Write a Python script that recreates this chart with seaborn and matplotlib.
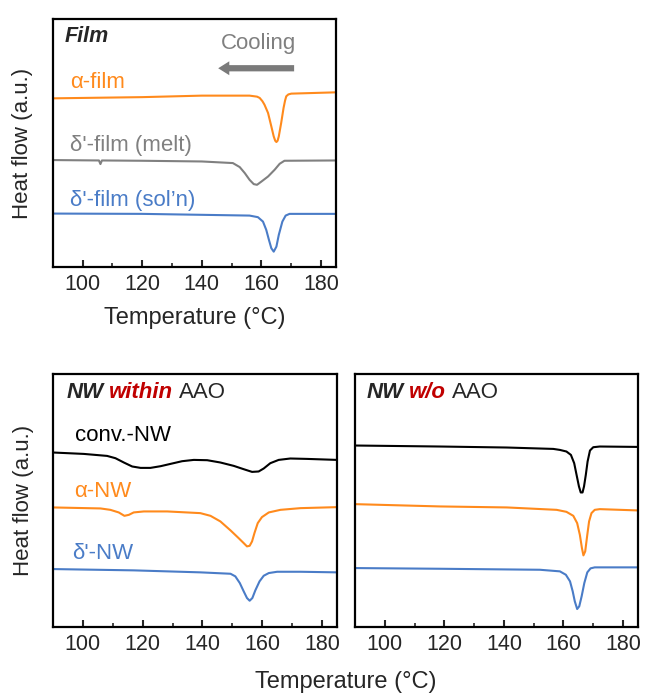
import pandas as pd
import matplotlib.pyplot as plt
import seaborn as sns
from matplotlib.ticker import MultipleLocator

# ---- data (heat flow read as height above the panel floor, a.u.) ----
# Film panel
film_alpha_T = [90, 120, 140, 156, 158.5, 159.4, 160.3, 161, 162.2, 163.3, 164.1, 164.6, 165, 165.4,
                165.8, 166.6, 167.4, 167.9, 168.3, 169, 170, 185]
film_alpha_h = [168.3, 169.5, 171, 171, 170, 168.7, 165.5, 162, 153.7, 140.3, 130.3, 126, 124.7, 126,
                130.3, 143.7, 158.7, 166, 170.3, 172.2, 173, 174.3]

film_melt_T = [90, 105.5, 106, 106.5, 120, 140, 150.4, 152.7, 154.4, 156, 157.4, 158.5, 160, 162.2,
               164.4, 166.1, 167.7, 185]
film_melt_h = [106.7, 106.3, 102.7, 106.3, 106, 105.3, 103.7, 99.7, 93.7, 87, 82.7, 82, 85.3, 90.3,
               97, 103, 106, 106.3]

film_soln_T = [90, 120, 156, 158.8, 160.5, 161.6, 162.5, 163.3, 164.1, 165, 165.8, 167, 168.1, 169.4, 185]
film_soln_h = [53.3, 53, 51.3, 49.7, 45.3, 37, 27, 18.7, 15.3, 20.3, 32, 45.3, 51.3, 53, 53]

# NW within AAO
in_conv_T = [90, 100.3, 108.1, 110.9, 113.7, 116.5, 119.3, 122.6, 126, 129.3, 133.2, 137.1, 141.6, 146,
             150.5, 153.8, 156.6, 158.8, 160.5, 162.7, 165.5, 169.4, 175, 185]
in_conv_h = [174.7, 173.3, 171.3, 169, 164.7, 160.7, 159.3, 159.3, 161, 163.3, 166, 167.3, 167, 164.7,
             161.3, 158, 155.3, 155.7, 158.7, 164, 167.3, 168.7, 168.3, 167.3]

in_alpha_T = [90, 105.9, 109.2, 112, 113.9, 115.4, 117, 120.4, 128.2, 139.3, 142.7, 146, 149.4, 152.1,
              153.8, 154.9, 155.8, 156.6, 157.4, 158.5, 159.9, 162.2, 166.1, 172.8, 185]
in_alpha_h = [119.7, 118.7, 117.3, 114.7, 111.3, 112.3, 114.7, 115.7, 115.7, 114, 111.3, 105.7, 96.7, 89,
              84, 80.7, 81.3, 85.7, 94, 104, 110, 114.7, 117.3, 119, 120]

in_delta_T = [90, 117, 139.3, 149.4, 151, 152.5, 153.8, 154.9, 155.8, 156.7, 157.7, 159.1, 160.5, 162.2,
              165, 172.8, 185]
in_delta_h = [58, 56.7, 54.7, 53.3, 50.7, 44, 35.7, 29, 26.3, 29, 36.7, 45.7, 51.3, 54, 55.3, 55.3, 54.7]

# NW w/o AAO
wo_conv_T = [90, 118.6, 141, 156.6, 158.8, 161, 162.5, 163.6, 164.4, 165.2, 165.8, 166.4, 166.9, 167.5,
             168.1, 168.9, 170, 172.2, 185]
wo_conv_h = [181.7, 180.7, 179.7, 178.3, 177.3, 175.7, 172.3, 164, 152.3, 140.7, 134.7, 134.7, 140.7,
             152.3, 165.7, 176.7, 180, 180.7, 180.3]

wo_alpha_T = [90, 118.6, 141, 157.7, 161, 163.3, 164.6, 165.5, 166.2, 166.7, 167.3, 168, 168.6, 169.4,
              170.5, 172.2, 185]
wo_alpha_h = [123, 120.7, 119.7, 117.3, 115.3, 111.3, 104, 92.3, 79, 71.7, 75.7, 92.3, 105.7, 114,
              117.3, 118, 116.7]

wo_delta_T = [90, 118.6, 152.1, 158.8, 160.8, 162.2, 163.1, 163.8, 164.6, 165.3, 166.1, 167, 168, 169.1,
              170.5, 185]
wo_delta_h = [59, 58.3, 57.3, 55.7, 52.3, 45.7, 35.7, 25.7, 18, 20.7, 30.7, 44, 54.7, 58.7, 59.7, 59.7]

ORANGE = "#ff8a1c"
GRAY = "#808080"
BLUE = "#4a7cc7"
BLACK = "#000000"
RED = "#c00000"


def make_df(series):
    rows = []
    for name, T, h in series:
        rows += [{"T": t, "h": v, "sample": name} for t, v in zip(T, h)]
    return pd.DataFrame(rows)


def style_axis(ax, ymax):
    ax.set_xlim(90, 185)
    ax.set_ylim(0, ymax)
    ax.set_yticks([])
    ax.xaxis.set_major_locator(MultipleLocator(20))
    ax.xaxis.set_minor_locator(MultipleLocator(10))
    ax.tick_params(axis="x", which="major", direction="in", length=5, width=1.5,
                   labelsize=15.5, pad=5, top=False)
    ax.tick_params(axis="x", which="minor", direction="in", length=3, width=1.2, top=False)
    for s in ax.spines.values():
        s.set_visible(True)
        s.set_linewidth(1.6)
        s.set_color("black")
    ax.set_xlabel("")
    ax.set_ylabel("")
    leg = ax.get_legend()
    if leg is not None:
        leg.remove()


def draw(ax, df, palette):
    sns.lineplot(data=df, x="T", y="h", hue="sample", palette=palette,
                 sort=False, estimator=None, linewidth=1.5, ax=ax)
    for ln in ax.lines:
        ln.set_solid_joinstyle("round")


def mixed_title(ax, x, y, red_word):
    t1 = ax.text(x, y, "NW", transform=ax.transAxes, fontsize=16,
                 fontweight="bold", fontstyle="italic", va="center", ha="left")
    t2 = ax.annotate(red_word, xy=(1, 0), xycoords=t1, xytext=(4, 0),
                     textcoords="offset points", fontsize=16, fontweight="bold",
                     fontstyle="italic", color=RED, va="bottom", ha="left")
    ax.annotate("AAO", xy=(1, 0), xycoords=t2, xytext=(4, 0),
                textcoords="offset points", fontsize=16, va="bottom", ha="left")


sns.set_style("ticks")
plt.rcParams["font.family"] = ["Liberation Sans", "DejaVu Sans"]

fig = plt.figure(figsize=(6.46, 7.0), dpi=100)
ax_film = fig.add_axes([0.0816, 0.6186, 0.4386, 0.354])
ax_in = fig.add_axes([0.082, 0.1043, 0.4396, 0.3614])
ax_wo = fig.add_axes([0.5495, 0.1043, 0.438, 0.3614])

# film panel
df_film = make_df([("a", film_alpha_T, film_alpha_h),
                   ("m", film_melt_T, film_melt_h),
                   ("s", film_soln_T, film_soln_h)])
draw(ax_film, df_film, {"a": ORANGE, "m": GRAY, "s": BLUE})
style_axis(ax_film, 247.3)
ax_film.set_xlabel("Temperature (°C)", fontsize=17, labelpad=9)
ax_film.set_ylabel("Heat flow (a.u.)", fontsize=16, labelpad=14)
ax_film.text(0.043, 0.931, "Film", transform=ax_film.transAxes, fontsize=15.5,
             fontweight="bold", fontstyle="italic", va="center")
ax_film.text(0.725, 0.903, "Cooling", transform=ax_film.transAxes, fontsize=16,
             color=GRAY, va="center", ha="center")
ax_film.annotate("", xy=(0.584, 0.802), xytext=(0.852, 0.802),
                 xycoords="axes fraction", textcoords="axes fraction",
                 arrowprops=dict(width=4.5, headwidth=10, headlength=8,
                                 shrink=0, color="#7a7a7a", lw=0))
ax_film.text(0.061, 0.746, "α-film", transform=ax_film.transAxes, fontsize=16,
             color=ORANGE, va="center")
ax_film.text(0.061, 0.492, "δ'-film (melt)", transform=ax_film.transAxes, fontsize=16,
             color=GRAY, va="center")
ax_film.text(0.061, 0.270, "δ'-film (sol’n)", transform=ax_film.transAxes, fontsize=16,
             color=BLUE, va="center")

# NW within AAO
df_in = make_df([("c", in_conv_T, in_conv_h),
                 ("a", in_alpha_T, in_alpha_h),
                 ("d", in_delta_T, in_delta_h)])
draw(ax_in, df_in, {"c": BLACK, "a": ORANGE, "d": BLUE})
style_axis(ax_in, 253.3)
ax_in.set_ylabel("Heat flow (a.u.)", fontsize=16, labelpad=14)
mixed_title(ax_in, 0.048, 0.925, "within")
ax_in.text(0.077, 0.755, "conv.-NW", transform=ax_in.transAxes, fontsize=16,
           color=BLACK, va="center")
ax_in.text(0.074, 0.534, "α-NW", transform=ax_in.transAxes, fontsize=16,
           color=ORANGE, va="center")
ax_in.text(0.067, 0.289, "δ'-NW", transform=ax_in.transAxes, fontsize=16,
           color=BLUE, va="center")

# NW w/o AAO
df_wo = make_df([("c", wo_conv_T, wo_conv_h),
                 ("a", wo_alpha_T, wo_alpha_h),
                 ("d", wo_delta_T, wo_delta_h)])
draw(ax_wo, df_wo, {"c": BLACK, "a": ORANGE, "d": BLUE})
style_axis(ax_wo, 253.3)
mixed_title(ax_wo, 0.041, 0.925, "w/o")

fig.text(0.535, 1 - 682 / 700, "Temperature (°C)", fontsize=17,
         ha="center", va="center")

fig.savefig("out.png", dpi=100, facecolor="white")
